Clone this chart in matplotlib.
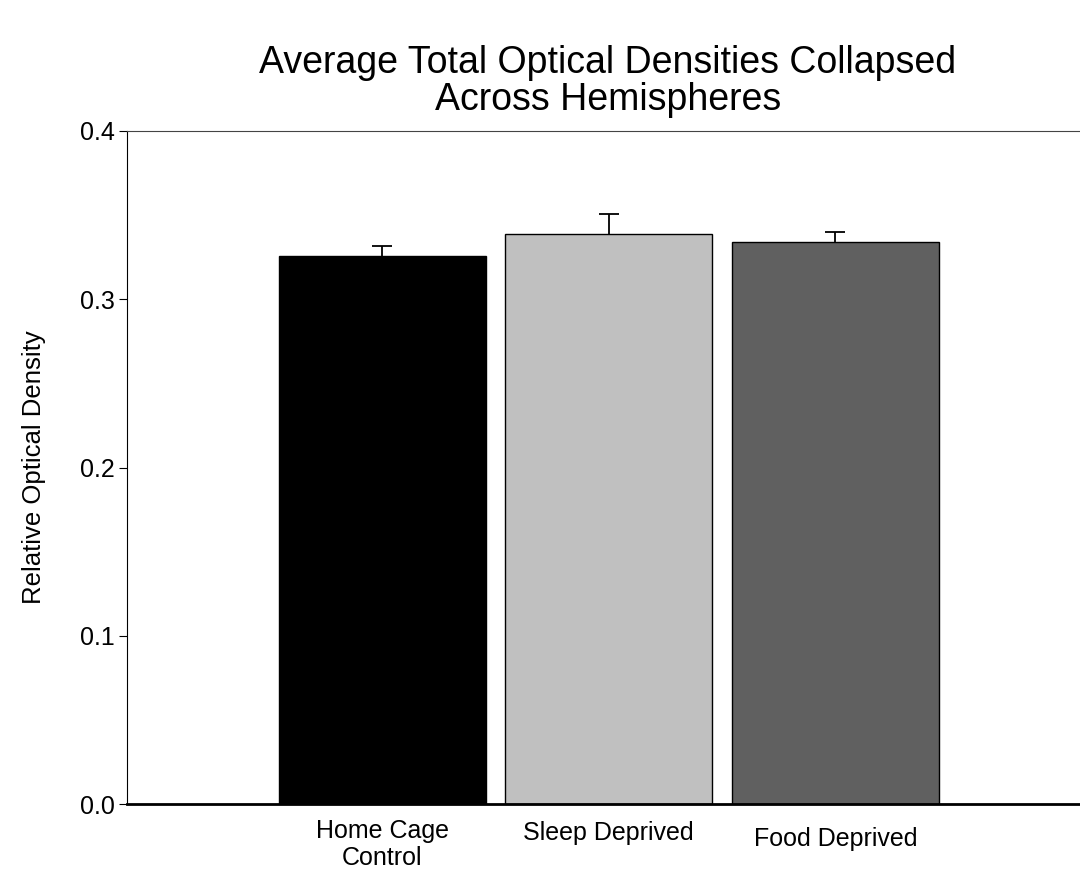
import matplotlib.pyplot as plt
import matplotlib.transforms as mtransforms
import numpy as np

plt.rcParams['font.family'] = ['Liberation Sans', 'DejaVu Sans']

groups = ["Home Cage\nControl", "Sleep Deprived", "Food Deprived"]
means = [0.3257, 0.3386, 0.3342]
errors = [0.0061, 0.0118, 0.0056]
colors = ["#000000", "#c0c0c0", "#606060"]

fig = plt.figure(figsize=(10.8, 8.71), dpi=100)
ax = fig.add_axes([0.1176, 0.0769, 0.8824, 0.7727])

x = np.arange(len(groups))
ax.bar(x, means, width=0.914, color=colors, edgecolor="black", linewidth=1, zorder=2)
eb = ax.errorbar(x, means, yerr=[np.zeros(len(errors)), errors], fmt="none",
                 ecolor="black", elinewidth=1.3, capsize=7.2, capthick=1.3, zorder=3)
# only upper caps
eb[1][0].set_visible(False)

ax.set_xlim(-1.126, 3.08)
ax.set_ylim(0, 0.4)
ax.set_yticks([0.0, 0.1, 0.2, 0.3, 0.4])
ax.set_yticklabels(["0.0", "0.1", "0.2", "0.3", "0.4"], fontsize=18)
ax.set_xticks(x)
ax.set_xticklabels(groups, fontsize=18, linespacing=1.12)
ax.tick_params(axis="x", length=0, pad=11)
ax.set_xticks([1], minor=True)
ax.tick_params(axis="x", which="minor", length=7, color="#555555")
ax.tick_params(axis="y", length=6, direction="out", pad=3)

# small vertical shifts of the category labels
shifts = [0, -2, -8]
for lab, s in zip(ax.get_xticklabels(), shifts):
    lab.set_transform(lab.get_transform() + mtransforms.ScaledTranslation(0, s / 100, fig.dpi_scale_trans))

ax.spines["right"].set_visible(False)
ax.spines["bottom"].set_linewidth(2)
ax.spines["top"].set_color("#444444")

ax.set_ylabel("Relative Optical Density", fontsize=18.5, labelpad=24)
fig.text(0.563, 0.948, "Average Total Optical Densities Collapsed\nAcross Hemispheres",
         ha="center", va="top", fontsize=27, linespacing=1.03)

fig.savefig("out.png", dpi=100)
